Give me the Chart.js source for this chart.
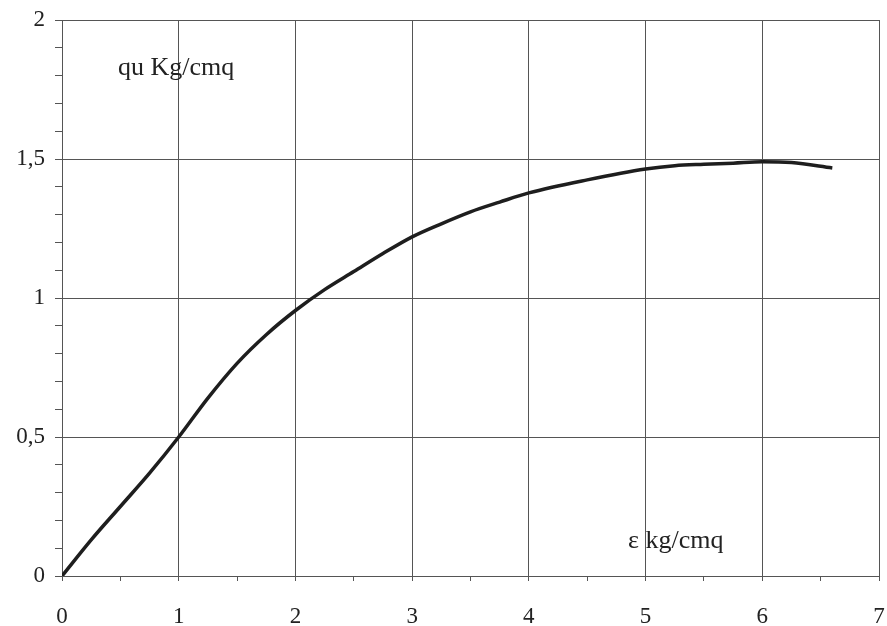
<!DOCTYPE html>
<html>
<head>
<meta charset="utf-8">
<script src="https://cdn.jsdelivr.net/npm/chart.js@4/dist/chart.umd.min.js"></script>
<style>
  html, body { margin: 0; padding: 0; background: #fff; }
  #wrap { width: 887px; height: 626px; }
</style>
</head>
<body>
<div id="wrap"><canvas id="chartjs-0" width="887" height="626"></canvas></div>
<script>
/* curve: strain vs. qu */
var strain = [0, 0.25, 0.5, 0.75, 1, 1.25, 1.5, 1.75, 2, 2.25, 2.5, 2.75, 3, 3.25, 3.5, 3.75, 4, 4.5, 5, 5.25, 5.5, 5.75, 6, 6.25, 6.6];
var qu     = [0, 0.13, 0.25, 0.37, 0.5, 0.64, 0.765, 0.868, 0.955, 1.03, 1.095, 1.16, 1.22, 1.267, 1.31, 1.345, 1.378, 1.425, 1.464, 1.476, 1.481, 1.485, 1.49, 1.487, 1.468];
var yLabel = "qu Kg/cmq";
var xLabel = "\u03b5 kg/cmq";

var points = [];
for (var i = 0; i < strain.length; i++) {
    points.push({ x: strain[i], y: qu[i] });
}

var serif = "'Liberation Serif', 'DejaVu Serif', serif";
var gridCol = "#555";

function isStep(v, step) {
    var r = v / step;
    return Math.abs(r - Math.round(r)) < 1e-6;
}

/* the two free-standing captions inside the plot */
var captions = {
    id: "captions",
    afterDraw: function(chart) {
        var c = chart.ctx;
        c.save();
        c.fillStyle = "#222";
        c.font = "26px " + serif;
        c.textBaseline = "alphabetic";
        c.textAlign = "left";
        c.fillText(yLabel, 118, 75);
        c.fillText(xLabel, 628, 548);
        c.restore();
    }
};

var ctx0 = document.getElementById("chartjs-0");
var myChart = new Chart(ctx0, {
    type: "scatter",
    data: {
        datasets: [{
            data: points,
            showLine: true,
            fill: false,
            borderColor: "#1e1e1e",
            borderWidth: 3.5,
            pointRadius: 0,
            cubicInterpolationMode: "monotone"
        }]
    },
    options: {
        responsive: false,
        animation: false,
        layout: { padding: { top: 20, right: 8, left: 0, bottom: 0 } },
        plugins: { legend: { display: false }, tooltip: { enabled: false } },
        scales: {
            x: {
                type: "linear",
                min: 0, max: 7,
                afterFit: function(s) { s.height = 50; s.paddingRight = 0; s.paddingLeft = 0; },
                border: { color: gridCol, width: 1 },
                grid: {
                    color: function(c) { return isStep(c.tick.value, 1) ? gridCol : "rgba(0,0,0,0)"; },
                    tickColor: gridCol,
                    tickLength: 5,
                    lineWidth: 1
                },
                ticks: {
                    stepSize: 0.5,
                    autoSkip: false,
                    maxRotation: 0,
                    padding: 22,
                    color: "#222",
                    font: { family: serif, size: 23 },
                    callback: function(v) { return isStep(v, 1) ? String(v) : ""; }
                }
            },
            y: {
                type: "linear",
                min: 0, max: 2,
                afterFit: function(s) { s.width = 62; s.paddingTop = 0; s.paddingBottom = 0; },
                border: { color: gridCol, width: 1 },
                grid: {
                    color: function(c) { return isStep(c.tick.value, 0.5) ? gridCol : "rgba(0,0,0,0)"; },
                    tickColor: gridCol,
                    tickLength: 7,
                    lineWidth: 1
                },
                ticks: {
                    stepSize: 0.1,
                    autoSkip: false,
                    padding: 10,
                    color: "#222",
                    font: { family: serif, size: 23 },
                    callback: function(v) { return isStep(v, 0.5) ? String(Math.round(v * 2) / 2).replace(".", ",") : ""; }
                }
            }
        }
    },
    plugins: [captions]
});
</script>
</body>
</html>
